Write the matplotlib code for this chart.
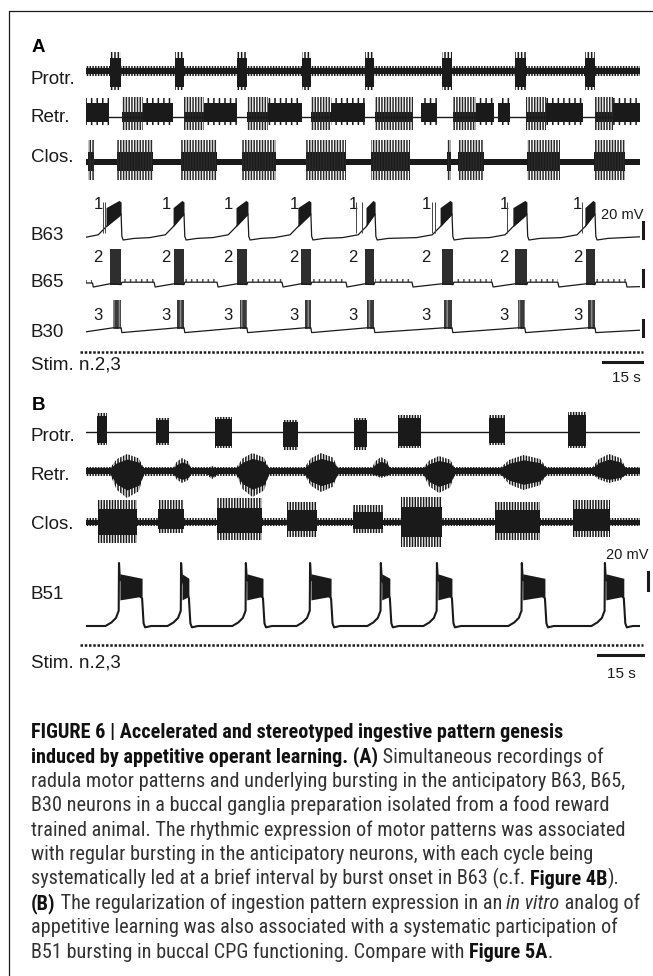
import matplotlib.pyplot as plt
from matplotlib import font_manager
from matplotlib.transforms import blended_transform_factory

plt.rcParams['hatch.linewidth'] = 1.1

W, H = 653, 976
INK = '#1a1a1a'

# ---------------- panel A (time in s, 15 s bar) ----------------
A_T = 213.1
a_protr = [(9.2, 13.5), (34.2, 37.7), (58.1, 61.9), (83.1, 86.5), (107.3, 110.8),
           (136.9, 140.8), (165.0, 169.2), (191.9, 195.8)]
a_retr_spiky = [(13.8, 21.9), (37.7, 45.4), (61.9, 70.0), (86.5, 94.2), (111.2, 125.8),
                (141.2, 150.0), (169.2, 176.9), (195.8, 202.7)]
a_retr_block = [(0.0, 8.8), (21.9, 33.5), (45.4, 58.1), (70.0, 83.1), (94.2, 107.3),
                (128.8, 135.0), (150.0, 156.9), (158.5, 163.1), (176.9, 191.2), (202.7, 213.1)]
a_clos = [(0.8, 3.1), (11.9, 25.8), (36.5, 50.4), (60.0, 73.1), (84.6, 100.0), (109.6, 124.6),
          (138.8, 140.4), (143.1, 153.1), (169.6, 182.3), (195.4, 207.3)]
a_b63 = [(7.7, 13.5), (33.5, 37.7), (57.7, 62.3), (81.5, 86.5), (107.7, 111.2),
         (136.2, 140.8), (164.2, 169.6), (191.9, 195.8)]
a_b63_early = [6.5, 7.2, 103.8, 106.2, 133.1, 134.2, 161.9, 190.8]
a_b65 = [(9.2, 13.5), (33.8, 37.7), (58.1, 61.9), (82.7, 86.5), (107.3, 110.8),
         (136.9, 141.2), (165.0, 169.6), (192.3, 195.8)]
a_b65_elev_end = [26.2, 50.4, 75.4, 100.0, 125.4, 156.2, 181.5, 207.7]
a_b30 = [(10.4, 13.5), (35.0, 37.7), (59.2, 61.9), (84.2, 86.5), (108.1, 110.8),
         (137.7, 140.8), (166.2, 168.8), (193.1, 195.8)]
a_num_t = [4.6, 30.8, 54.6, 80.0, 102.7, 130.8, 160.8, 189.2]

# ---------------- panel B ----------------
B_T = 184.7
b_protr = [(3.7, 7.0), (23.3, 27.7), (43.0, 48.7), (65.7, 70.7), (89.3, 93.7),
           (104.0, 111.7), (134.3, 139.7), (160.7, 166.7)]
b_protr_up = [19, 14, 15, 12, 14, 17, 17, 20]
b_protr_dn = [13, 13, 16, 18, 18, 16, 13, 16]
b_retr = [(8.0, 19.3), (29.0, 35.0), (40.3, 43.7), (50.0, 61.0), (72.7, 84.0),
          (95.3, 101.3), (112.3, 123.0), (138.0, 153.7), (168.7, 180.0)]
b_retr_up = [17, 13, 5, 18, 18, 14, 15, 16, 17]
b_retr_dn = [27, 12, 8, 26, 21, 7, 22, 19, 12]
b_clos = [(4.0, 17.0), (24.0, 32.7), (43.7, 58.7), (67.0, 77.0), (89.0, 99.0),
          (105.0, 118.7), (136.3, 151.3), (162.3, 174.7)]
b_clos_up = [22, 22, 24, 20, 17, 25, 20, 22]
b_clos_dn = [21, 11, 18, 15, 11, 25, 18, 15]
b_b51 = [(11.0, 18.7), (31.7, 34.3), (53.3, 59.0), (74.7, 81.7), (98.3, 101.3),
         (117.0, 122.0), (145.3, 153.0), (173.0, 179.3)]

# B51 waveform (s from rise / mV)
b51_ramp_dt = [-4.5, -2.5, -1.0, -0.1]
b51_ramp_mv = [0.0, 4.0, 9.0, 17.0]
b51_peak = 70.0

fig = plt.figure(figsize=(W / 100, H / 100), dpi=100)
over = fig.add_axes([0, 0, 1, 1])
over.set_xlim(0, W)
over.set_ylim(H, 0)
over.axis('off')
over.plot([9, 9, W], [H, 11, 11], color=INK, lw=0.9, clip_on=False)


def trace_ax(top, bot, base, ppu, T):
    ax = fig.add_axes([86 / W, 1 - bot / H, 554 / W, (bot - top) / H])
    ax.set_xlim(0, T)
    ax.set_ylim(-(bot - base) / ppu, (base - top) / ppu)
    ax.axis('off')
    return ax


def band(ax, T, half, hatch_half=None):
    ax.fill_between([0, T], [-half, -half], [half, half], color=INK, lw=0)
    if hatch_half:
        ax.fill_between([0, T], [-hatch_half] * 2, [hatch_half] * 2, facecolor='none',
                        edgecolor=INK, hatch='||||||', lw=0)


def block(ax, t0, t1, up, dn, color=INK):
    ax.fill_between([t0, t1], [-dn, -dn], [up, up], color=color, lw=0)


def spikes(ax, t0, t1, up, dn, hatch='|||||', color=INK):
    ax.fill_between([t0, t1], [-dn, -dn], [up, up], facecolor='none',
                    edgecolor=color, hatch=hatch, lw=0)


def spindle(ax, t0, t1, up, dn, base):
    d = t1 - t0
    ts = [t0, t0 + 0.2 * d, t0 + 0.5 * d, t1 - 0.15 * d, t1]
    k = [0, 0.7, 1.0, 0.75, 0]
    ax.fill_between(ts, [-max(base, 0.7 * dn * f) for f in k], [max(base, 0.7 * up * f) for f in k],
                    color=INK, lw=0)
    ax.fill_between(ts, [-max(base, dn * f) for f in k], [max(base, up * f) for f in k],
                    facecolor='none', edgecolor=INK, hatch='||||||', lw=0)


# ---- panel A extracellular
ax = trace_ax(48, 94, 71, 1.0, A_T)
band(ax, A_T, 3.0, 5.0)
for t0, t1 in a_protr:
    block(ax, t0, t1, 13, 16)
    spikes(ax, t0, t1, 19, 19)

ax = trace_ax(94, 135, 117, 1.0, A_T)
ax.axhline(0, color=INK, lw=1.0)
for t0, t1 in a_retr_spiky:
    block(ax, t0, t1, 5, 5)
    spikes(ax, t0, t1, 20, 13, hatch='||||||', color='#2a2a2a')
for t0, t1 in a_retr_block:
    block(ax, t0, t1, 14, 5)
    spikes(ax, t0, t1, 19, 8, hatch='|||')

ax = trace_ax(136, 184, 162, 1.0, A_T)
band(ax, A_T, 3.0)
for t0, t1 in a_clos:
    block(ax, t0, t1, 10, 9)
    spikes(ax, t0, t1, 22, 18, hatch='||||||', color='#2a2a2a')

# ---- panel A intracellular (0.8 px per mV)
ax63 = trace_ax(195, 246, 238, 0.8, A_T)
t, v = [0.0], [1.0]
for s, e in a_b63:
    for tt, vv in zip([s - 9, s - 3, s, e, e + 0.3, e + 0.8, e + 5],
                      [0.5, 4, 14, 30, 2, -2.5, -0.5]):
        if tt > t[-1]:
            t.append(tt)
            v.append(vv)
    ax63.fill_between([s, e - 0.8, e], [14, 27, 30], [38, 47, 45], color=INK, lw=0)
t.append(A_T)
v.append(1.5)
ax63.plot(t, v, color=INK, lw=0.9)
ax63.vlines(a_b63_early, 6, 45, color='#444444', lw=0.7)
ax63.plot([214.2, 214.2], [0, 20], color=INK, lw=2.2, clip_on=False)

ax65 = trace_ax(245, 295, 287, 0.8, A_T)
t, v = [0.0, 2.5, 2.8], [5.0, 5.0, 0.0]
spikes(ax65, 0, 2.5, 9, -5, hatch='|||', color='#555555')
for (s, e), r in zip(a_b65, a_b65_elev_end):
    t += [s, e, e + 0.3, r, r + 0.4]
    v += [4, 3, 6, 6, 0]
    block(ax65, s, e, 47, -2, color='#2e2e2e')
    spikes(ax65, e + 0.3, r, 9.5, -6, hatch='|||', color='#555555')
t.append(A_T)
v.append(0.5)
ax65.plot(t, v, color=INK, lw=0.9)
ax65.plot([214.2, 214.2], [1, 21], color=INK, lw=2.2, clip_on=False)

ax30 = trace_ax(296, 340, 331, 0.8, A_T)
t, v = [0.0], [-1.0]
for s, e in a_b30:
    t += [s, e, e + 0.3]
    v += [4, 4, -2]
    block(ax30, s, e, 39, -3, color='#3a3a3a')
    spikes(ax30, s, e, 39, -3, hatch='|||', color='#8a8a8a')
t.append(A_T)
v.append(1.0)
ax30.plot(t, v, color=INK, lw=0.9)
ax30.plot([214.2, 214.2], [-6, 14], color=INK, lw=2.2, clip_on=False)

ax = trace_ax(345, 370, 352, 1.0, A_T)
ax.plot([-2.3, 214.2], [0, 0], color=INK, lw=1.8, ls=(0, (1, 0.7)), clip_on=False)
ax.plot([198.8, 213.8], [-10, -10], color=INK, lw=2.2, clip_on=False)

# ---- panel B extracellular
ax = trace_ax(398, 452, 432, 1.0, B_T)
ax.axhline(0, color=INK, lw=1.0)
for (t0, t1), u, d in zip(b_protr, b_protr_up, b_protr_dn):
    block(ax, t0, t1, 0.85 * u, 0.85 * d)
    spikes(ax, t0, t1, u, d, hatch='||||||')

ax = trace_ax(450, 502, 471, 1.0, B_T)
band(ax, B_T, 3.0, 4.5)
for (t0, t1), u, d in zip(b_retr, b_retr_up, b_retr_dn):
    spindle(ax, t0, t1, u, d, 3.0)

ax = trace_ax(497, 548, 522, 1.0, B_T)
band(ax, B_T, 2.5, 4.0)
for (t0, t1), u, d in zip(b_clos, b_clos_up, b_clos_dn):
    block(ax, t0, t1, 0.6 * u, 0.6 * d)
    spikes(ax, t0, t1, u, d, hatch='||||||')

# ---- B51 (0.9 px per mV)
ax51 = trace_ax(555, 634, 626, 0.9, B_T)
t, v = [0.0], [0.0]
for r, f in b_b51:
    for dt, mv in zip(b51_ramp_dt, b51_ramp_mv):
        if r + dt > t[-1]:
            t.append(r + dt)
            v.append(mv)
    t += [r, r + 0.3, f, f + 0.5, f + 1.0, f + 3.0]
    v += [b51_peak, 52, 31, 3, -1.5, 0]
    ax51.fill_between([r + 0.3, f], [29, 33], [58, 53], color=INK, lw=0)
t.append(B_T)
v.append(0.0)
ax51.plot(t, v, color=INK, lw=1.5)
ax51.plot([187.3, 187.3], [40, 60], color=INK, lw=2.2, clip_on=False)

ax = trace_ax(640, 665, 645, 1.0, B_T)
ax.plot([-2.0, 185.7], [0, 0], color=INK, lw=1.8, ls=(0, (1, 0.7)), clip_on=False)
ax.plot([170.7, 185.7], [-10, -10], color=INK, lw=2.2, clip_on=False)

# ---------------- labels ----------------
LAB = 'Liberation Sans'


def label(x, yc, s, size, ha='left', weight='normal', color=INK, tr=None):
    px = size * 100 / 72
    over.text(x, yc + 0.36 * px, s, fontsize=size, va='baseline', ha=ha, family=LAB,
              fontweight=weight, color=color, transform=tr or over.transData)


label(32, 45, 'A', 13.5, weight='bold', color='black')
label(32, 403, 'B', 13.5, weight='bold', color='black')
for yc, s in [(77, 'Protr.'), (115, 'Retr.'), (155, 'Clos.'), (233, 'B63'), (280, 'B65'),
              (330, 'B30'), (363, 'Stim. n.2,3'), (434, 'Protr.'), (473, 'Retr.'),
              (522, 'Clos.'), (592, 'B51'), (661, 'Stim. n.2,3')]:
    label(31, yc, s, 13.5)

for ax_, yc, s in [(ax63, 203, '1'), (ax65, 256, '2'), (ax30, 314, '3')]:
    tr = blended_transform_factory(ax_.transData, over.transData)
    for tn in a_num_t:
        label(tn, yc, s, 12, ha='center', tr=tr)

label(622, 214, '20 mV', 10.5, ha='center')
label(627, 554, '20 mV', 10.5, ha='center')
label(626, 376, '15 s', 11, ha='center')
label(621, 672, '15 s', 11, ha='center')

# ---------------- caption ----------------
names = {f.name for f in font_manager.fontManager.ttflist}
CAP = next(n for n in ['Liberation Sans Narrow', 'Roboto Condensed', 'DejaVu Sans Condensed',
                       'Open Sans Condensed', 'Roboto', 'Liberation Sans'] if n in names)

caption = [
    [('FIGURE 6 | Accelerated and stereotyped ingestive pattern genesis', 'bold', 'normal')],
    [('induced by appetitive operant learning. (A)', 'bold', 'normal'),
     (' Simultaneous recordings of', 'normal', 'normal')],
    [('radula motor patterns and underlying bursting in the anticipatory B63, B65,', 'normal', 'normal')],
    [('B30 neurons in a buccal ganglia preparation isolated from a food reward', 'normal', 'normal')],
    [('trained animal. The rhythmic expression of motor patterns was associated', 'normal', 'normal')],
    [('with regular bursting in the anticipatory neurons, with each cycle being', 'normal', 'normal')],
    [('systematically led at a brief interval by burst onset in B63 (c.f. ', 'normal', 'normal'),
     ('Figure 4B', 'bold', 'normal'), (').', 'normal', 'normal')],
    [('(B)', 'bold', 'normal'), (' The regularization of ingestion pattern expression in an ', 'normal', 'normal'),
     ('in vitro', 'normal', 'italic'), (' analog of', 'normal', 'normal')],
    [('appetitive learning was also associated with a systematic participation of', 'normal', 'normal')],
    [('B51 bursting in buccal CPG functioning. Compare with ', 'normal', 'normal'),
     ('Figure 5A', 'bold', 'normal'), ('.', 'normal', 'normal')],
]

fig.canvas.draw()
rend = fig.canvas.get_renderer()
widest = 0
for line in caption:
    lw_ = 0
    for s, wgt, sty in line:
        probe = over.text(0, 0, s, fontsize=14, family=CAP, fontweight=wgt, fontstyle=sty)
        lw_ += probe.get_window_extent(rend).width
        probe.remove()
    widest = max(widest, lw_)
cap_size = 14 * 610 / widest

cap_y0, cap_dy = 731, 24.4
for i, line in enumerate(caption):
    x = 31
    yb = cap_y0 + i * cap_dy + 0.36 * cap_size * 100 / 72
    for s, wgt, sty in line:
        txt = over.text(x, yb, s, fontsize=cap_size, family=CAP, fontweight=wgt, fontstyle=sty,
                        va='baseline', color='#111111' if wgt == 'bold' else '#333333')
        x += txt.get_window_extent(rend).width

fig.savefig('out.png', dpi=100)
